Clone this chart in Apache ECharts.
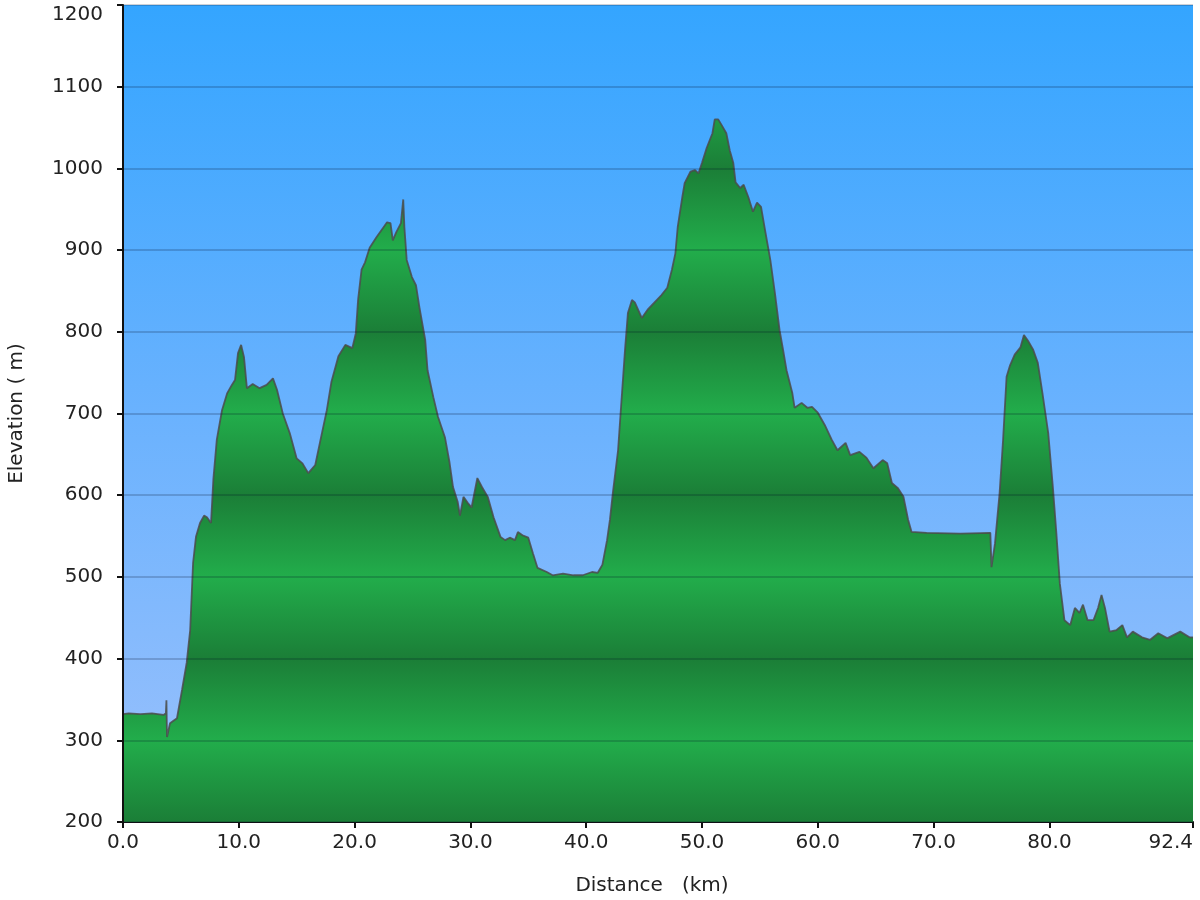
<!DOCTYPE html>
<html>
<head>
<meta charset="utf-8">
<script src="https://cdn.jsdelivr.net/npm/echarts@6/dist/echarts.min.js"></script>
<style>
html,body{margin:0;padding:0;background:#fff;}
#chart{width:1200px;height:900px;}
</style>
</head>
<body>
<div id="chart"></div>
<script>
// Distance along route (km)
const distance = [0,0.5,1.5,2.5,3.5,3.7,3.75,3.8,4.06,4.66,5.1,5.5,5.8,6.05,6.3,6.65,7.0,7.25,7.6,7.8,8.1,8.55,9.0,9.4,9.67,9.93,10.2,10.45,10.7,11.2,11.8,12.4,12.95,13.3,13.8,14.4,15.0,15.5,16.0,16.6,17.0,17.6,18.0,18.6,19.2,19.8,20.1,20.3,20.6,20.9,21.3,21.9,22.5,22.8,23.1,23.3,23.6,24.0,24.2,24.3,24.5,24.95,25.3,25.6,26.1,26.3,26.8,27.2,27.8,28.2,28.5,28.9,29.1,29.4,29.8,30.1,30.6,31.0,31.5,32.0,32.6,33.0,33.4,33.85,34.1,34.5,35.0,35.4,35.8,36.6,37.1,38.0,38.9,39.7,40.5,41.0,41.4,41.8,42.05,42.3,42.75,43.35,43.6,43.95,44.2,44.8,45.3,45.9,46.5,47.0,47.4,47.7,47.9,48.3,48.5,49.0,49.4,49.7,50.0,50.4,50.9,51.1,51.4,51.7,52.1,52.4,52.7,52.9,53.3,53.6,54.0,54.4,54.75,55.1,55.4,55.9,56.3,56.7,57.0,57.3,57.8,58.0,58.6,59.1,59.5,60.0,60.6,61.2,61.7,62.4,62.8,63.6,64.2,64.8,65.6,66.0,66.4,66.9,67.4,67.8,68.1,69.4,72.3,74.9,75.0,75.3,75.7,76.0,76.3,76.6,77.0,77.5,77.8,78.2,78.6,79.0,79.4,79.9,80.3,80.6,80.9,81.3,81.8,82.2,82.6,82.9,83.3,83.8,84.2,84.5,84.8,85.2,85.8,86.3,86.7,87.2,88.0,88.7,89.4,90.2,91.3,92.1,92.4];
// Elevation (m)
const elevation = [332,333,332,333,331,333,349,304,321,327,362,395,435,517,549,566,575,573,566,619,668,704,725,735,741,774,784,769,731,736,731,735,743,729,700,676,645,639,627,637,664,704,739,770,784,780,798,839,876,885,903,916,928,934,933,912,922,933,962,928,888,867,857,830,790,753,720,696,671,640,610,592,575,598,590,585,621,610,598,573,549,545,548,545,555,551,548,529,511,506,502,504,502,502,506,505,515,545,570,603,655,778,823,839,836,817,827,836,845,854,876,896,928,965,982,996,998,994,1007,1025,1043,1060,1060,1053,1043,1022,1007,983,976,980,965,947,958,953,928,888,847,802,778,753,725,707,713,707,708,701,686,668,655,664,649,653,646,633,643,639,615,609,598,570,555,554,553,554,512,541,603,668,745,759,772,781,796,788,778,762,725,676,610,554,492,447,441,462,456,466,447,447,462,478,462,433,435,441,426,433,426,423,431,425,433,426,426];
// Tick labels shown on the distance axis
const xTickValues = [0,10,20,30,40,50,60,70,80,92.4];
const yMin = 200, yMax = 1200, yStep = 100;

const GRID_TOP = 5, GRID_BOTTOM = 78, GRID_LEFT = 123, GRID_RIGHT = 7;
const plotTop = GRID_TOP, plotBottom = 900 - GRID_BOTTOM;

// banded green fill: darker at even hundreds, lighter at odd hundreds
const DARK = '#1b7e37', LIGHT = '#22ad4b';
const stops = [];
for (let v = yMax; v >= yMin; v -= yStep) {
  const off = (yMax - v) / (yMax - yMin);
  stops.push({offset: off, color: (v / 100) % 2 === 0 ? DARK : LIGHT});
}
const greenFill = {type:'linear', x:0, y:plotTop, x2:0, y2:plotBottom, global:true, colorStops:stops};

const chart = echarts.init(document.getElementById('chart'), null, {renderer:'canvas'});
const font = 'DejaVu Sans, Verdana, sans-serif';
chart.setOption({
  animation:false,
  backgroundColor:'#ffffff',
  grid:{
    left:GRID_LEFT, right:GRID_RIGHT, top:GRID_TOP, bottom:GRID_BOTTOM,
    containLabel:false, outerBoundsMode:'none',
    show:true, borderWidth:0,
    backgroundColor:new echarts.graphic.LinearGradient(0,0,0,1,[
      {offset:0,color:'#34a5ff'},
      {offset:0.5,color:'#6ab2fe'},
      {offset:1,color:'#9cc1fc'}
    ])
  },
  xAxis:{
    type:'value', min:0, max:92.4,
    name:'Distance   (km)', nameLocation:'middle', nameGap:54,
    nameTextStyle:{fontFamily:font, fontSize:20, color:'#222', padding:[0,12,0,0]},
    axisLine:{show:true, onZero:false, lineStyle:{color:'#111', width:2}},
    axisTick:{show:true, length:6, inside:false, customValues:xTickValues, lineStyle:{color:'#111', width:2}},
    axisLabel:{customValues:xTickValues, margin:11, fontFamily:font, fontSize:20, color:'#222',
      alignMaxLabel:'right',
      formatter:function(v){return v.toFixed(1);}},
    splitLine:{show:false}
  },
  yAxis:{
    type:'value', min:yMin, max:yMax, interval:yStep, z:5,
    name:'Elevation ( m)', nameLocation:'middle', nameGap:96, nameRotate:90,
    nameTextStyle:{fontFamily:font, fontSize:20, color:'#222'},
    axisLine:{show:true, lineStyle:{color:'#111', width:2}},
    axisTick:{show:true, length:6, lineStyle:{color:'#111', width:2}},
    axisLabel:{margin:20, fontFamily:font, fontSize:20, color:'#222',
      verticalAlignMaxLabel:'top',
      formatter:function(v){return String(v);}},
    splitLine:{show:true, lineStyle:{color:'rgba(0,10,40,0.25)', width:1.5}}
  },
  series:[{
    type:'line',
    data:distance.map((d,i)=>[d, elevation[i]]),
    showSymbol:false, symbol:'none', smooth:false, z:2,
    lineStyle:{color:'rgba(75,75,75,0.85)', width:1.8},
    areaStyle:{color:greenFill, opacity:1, origin:'start'}
  }]
});
</script>
</body>
</html>
